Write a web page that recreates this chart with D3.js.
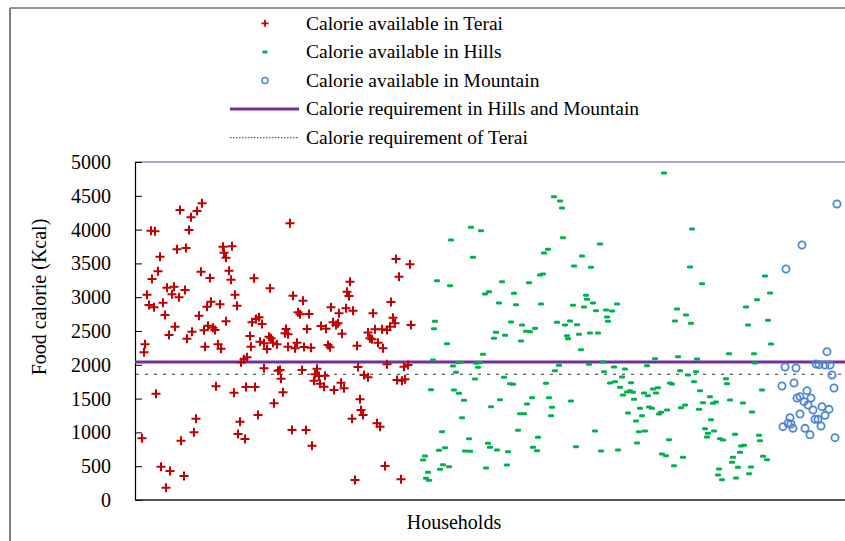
<!DOCTYPE html>
<html>
<head>
<meta charset="utf-8">
<script src="https://cdn.jsdelivr.net/npm/d3@7"></script>
<style>
  body { margin: 0; background: #fff; }
  svg { display: block; font-family: "Liberation Serif", "Times New Roman", serif; }
</style>
</head>
<body>
<svg id="chart" width="845" height="541"></svg>
<script>
// household index (x) and calorie available (kcal)
const teraiPoints = [
  [9,2184],[10,2303],[16,3984],[20,3974],[25,3600],[17,3269],[23,3383],[12,3037],[14,2885],[19,2850],
  [28,2919],[30,2737],[32,3141],[39,3156],[37,3042],[44,2998],[50,3107],[34,2441],[40,2564],[52,2387],
  [57,2490],[42,3708],[51,3728],[45,4290],[54,3994],[56,4181],[62,4275],[67,4389],[66,3378],[75,3284],
  [64,2727],[72,2860],[76,2934],[85,2894],[69,2510],[73,2579],[78,2549],[80,2515],[70,2268],[83,2303],
  [86,2239],[88,3748],[89,3659],[91,3585],[97,3753],[94,3393],[96,3259],[100,3037],[102,2875],[91,2643],
  [106,2036],[109,2081],[112,2110],[115,2426],[116,2268],[117,2628],[119,3279],[121,2678],[21,1573],[81,1681],
  [99,1588],[111,1672],[120,1672],[123,1257],[61,1203],[59,1001],[105,1159],[103,976],[110,902],[7,912],
  [46,878],[26,493],[35,429],[49,355],[31,182],
  [155,4093],[135,3131],[158,3023],[168,2949],[215,3230],[212,3082],[214,3018],[163,2776],[165,2747],[174,2751],
  [124,2702],[127,2604],[196,2850],[204,2761],[211,2835],[218,2801],[238,2761],[151,2530],[150,2466],[153,2451],
  [172,2530],[186,2574],[191,2535],[198,2628],[203,2613],[201,2589],[207,2461],[233,2476],[235,2392],[237,2377],
  [125,2342],[129,2318],[132,2234],[134,2416],[136,2392],[138,2327],[142,2303],[153,2268],[160,2244],[162,2327],
  [169,2263],[176,2254],[193,2293],[195,2258],[222,2283],[129,1948],[143,1913],[145,1923],[146,1795],[167,1923],
  [182,1943],[180,1859],[184,1834],[190,1839],[179,1765],[185,1721],[189,1677],[206,1736],[199,1627],[209,1652],
  [223,1967],[229,1849],[233,1815],[148,1593],[139,1430],[225,1489],[226,1331],[228,1257],[217,1203],[157,1035],
  [171,1035],[177,804],[220,296],
  [261,3565],[275,3486],[264,3304],[256,2929],[258,2697],[260,2613],[276,2589],[240,2525],[247,2525],[252,2515],
  [255,2564],[243,2327],[248,2244],[252,2007],[269,1972],[273,1997],[262,1775],[267,1765],[270,1785],[242,1134],
  [245,1085],[250,503],[266,306]
];

const hillsPoints = [
  [336,4034],[346,3984],[316,3846],[338,3590],[302,3245],[315,3171],[350,3047],[354,3082],[300,2643],[299,2535],
  [312,2313],[348,2155],[298,2071],[318,1982],[323,2032],[326,2037],[321,1889],[341,2022],[345,2032],[343,1963],
  [340,1790],[296,1632],[319,1627],[324,1578],[329,1474],[356,1381],[327,1218],[307,1011],[334,907],[353,838],
  [355,779],[330,725],[335,720],[310,774],[304,735],[290,651],[288,592],[308,523],[314,493],[305,454],
  [293,409],[291,321],[294,291],[351,473],
  [419,4487],[425,4423],[427,4320],[428,3881],[465,3787],[413,3708],[409,3654],[447,3609],[439,3462],[456,3442],
  [405,3329],[408,3343],[367,3230],[394,3215],[379,3057],[364,2914],[381,2890],[406,2899],[451,3028],[452,2968],
  [458,2914],[438,2880],[449,2855],[461,2801],[471,2811],[472,2707],[473,2643],[376,2633],[387,2589],[361,2480],
  [359,2392],[370,2436],[391,2495],[395,2490],[400,2539],[386,2352],[422,2628],[430,2589],[435,2648],[442,2594],
  [432,2431],[433,2387],[444,2451],[455,2470],[463,2470],[446,2224],[424,1992],[420,1913],[454,2007],[468,2041],
  [469,1898],[369,1815],[375,1721],[378,1711],[411,1726],[365,1484],[397,1514],[414,1514],[392,1420],[417,1371],
  [436,1465],[385,1277],[389,1277],[416,1248],[383,1031],[403,927],[460,1021],[398,779],[402,730],[441,789],
  [362,740],[373,715],[466,725],[372,518],
  [529,4837],[557,4009],[555,3447],[567,3200],[477,2796],[482,2899],[542,2825],[551,2737],[540,2648],[556,2613],
  [520,2091],[543,2120],[562,2086],[479,1967],[490,1938],[512,1987],[545,1913],[553,1849],[561,1898],[475,1731],
  [480,1751],[487,1820],[496,1736],[485,1667],[488,1553],[492,1598],[495,1617],[498,1593],[509,1583],[513,1543],
  [518,1642],[523,1662],[521,1583],[535,1731],[537,1716],[559,1751],[565,1617],[575,1529],[568,1440],[578,1430],
  [581,1450],[499,1489],[493,1287],[505,1356],[507,1248],[514,1376],[517,1356],[524,1272],[526,1297],[532,1331],
  [546,1366],[550,1405],[564,1341],[501,1169],[576,1188],[504,1011],[510,1021],[570,1055],[573,986],[572,932],
  [579,1021],[585,907],[588,888],[502,843],[534,893],[483,740],[527,680],[531,656],[548,631],[539,508],
  [584,459],[583,370],[587,301],
  [630,3314],[635,3062],[622,2964],[611,2855],[613,2589],[633,2658],[636,2308],[594,2165],[619,2165],[620,2027],
  [591,1795],[592,1721],[627,1627],[595,1479],[608,1435],[617,1302],[600,971],[624,957],[625,878],[606,799],
  [609,809],[605,705],[598,631],[597,557],[628,646],[632,597],[603,483],[616,488],[614,390],[601,325]
];

const mountainPoints = [
  [702,4379],[667,3772],[651,3417],[692,2194],[650,1967],[661,1953],[681,2012],[684,2002],[690,1997],[695,1997],
  [697,1849],[647,1686],[659,1731],[699,1657],[672,1617],[662,1509],[665,1529],[676,1509],[669,1455],[673,1405],
  [678,1331],[687,1381],[694,1341],[665,1272],[690,1252],[680,1193],[683,1193],[655,1218],[653,1134],[656,1124],
  [648,1085],[658,1060],[670,1060],[686,1095],[675,966],[700,922]
];

const hillsMountainRequirement = 2040;
const teraiRequirement = 1860;
const yTicks = [0, 500, 1000, 1500, 2000, 2500, 3000, 3500, 4000, 4500, 5000];

const legendItems = [
  { label: "Calorie available in Terai", kind: "plus" },
  { label: "Calorie available in Hills", kind: "dash" },
  { label: "Calorie available in Mountain", kind: "circle" },
  { label: "Calorie requirement in Hills and Mountain", kind: "solid" },
  { label: "Calorie requirement of Terai", kind: "dotted" }
];

const red = "#c00000", green = "#00b050", blue = "#4f86d4", purple = "#7030a0";

const svg = d3.select("#chart");
const x = d3.scaleLinear().domain([0, 710]).range([135, 845]);
const y = d3.scaleLinear().domain([0, 5000]).range([500, 162]);

// outer frame (left and top edges visible)
svg.append("line").attr("x1", 10).attr("x2", 10).attr("y1", 8).attr("y2", 541)
  .attr("stroke", "#7f7f7f").attr("stroke-width", 2);
svg.append("line").attr("x1", 10).attr("x2", 845).attr("y1", 8).attr("y2", 8)
  .attr("stroke", "#6f6f6f").attr("stroke-width", 1.5);

// top line of plot area
svg.append("line").attr("x1", 135).attr("x2", 845).attr("y1", y(5000)).attr("y2", y(5000))
  .attr("stroke", "#b49fd6").attr("stroke-width", 2);

// y axis
const yAxis = svg.append("g")
  .attr("transform", "translate(135,0)")
  .call(d3.axisLeft(y).tickValues(yTicks).tickSize(-7).tickSizeOuter(0).tickPadding(24).tickFormat(d3.format("d")));
yAxis.select(".domain").attr("stroke", "#000").attr("stroke-width", 1.2);
yAxis.selectAll(".tick line").attr("stroke", "#000");
yAxis.selectAll("text").attr("font-size", 20).attr("fill", "#000")
  .attr("font-family", "'Liberation Serif', 'Times New Roman', serif");

// x axis line
svg.append("line").attr("x1", 135).attr("x2", 845).attr("y1", y(0)).attr("y2", y(0))
  .attr("stroke", "#1e1630").attr("stroke-width", 1.5);

// requirement lines
svg.append("line").attr("x1", 135).attr("x2", 845)
  .attr("y1", y(hillsMountainRequirement)).attr("y2", y(hillsMountainRequirement))
  .attr("stroke", purple).attr("stroke-width", 3);
svg.append("line").attr("x1", 136).attr("x2", 845)
  .attr("y1", y(teraiRequirement)).attr("y2", y(teraiRequirement))
  .attr("stroke", "#333").attr("stroke-width", 1).attr("stroke-dasharray", "3,6");

// markers
const plus = s => `M${-s},0H${s}M0,${-s}V${s}`;

svg.append("g").selectAll("path").data(teraiPoints).join("path")
  .attr("transform", d => `translate(${x(d[0])},${y(d[1])})`)
  .attr("d", plus(4.5))
  .attr("stroke", red).attr("stroke-width", 2).attr("fill", "none");

svg.append("g").selectAll("rect").data(hillsPoints).join("rect")
  .attr("x", d => x(d[0]) - 3).attr("y", d => y(d[1]) - 1.5)
  .attr("width", 6).attr("height", 3).attr("rx", 1.2)
  .attr("fill", green);

svg.append("g").selectAll("circle").data(mountainPoints).join("circle")
  .attr("cx", d => x(d[0])).attr("cy", d => y(d[1])).attr("r", 3.6)
  .attr("fill", "none").attr("stroke", blue).attr("stroke-width", 1.8);

// legend
const legend = svg.append("g");
legendItems.forEach((item, i) => {
  const cy = 23.3 + i * 28.6;
  const g = legend.append("g");
  if (item.kind === "plus") {
    g.append("path").attr("transform", `translate(265,${cy})`).attr("d", plus(3.5))
      .attr("stroke", red).attr("stroke-width", 1.8);
  } else if (item.kind === "dash") {
    g.append("rect").attr("x", 262.5).attr("y", cy - 1.5).attr("width", 5).attr("height", 3)
      .attr("rx", 0.8).attr("fill", green);
  } else if (item.kind === "circle") {
    g.append("circle").attr("cx", 265).attr("cy", cy).attr("r", 3)
      .attr("fill", "none").attr("stroke", blue).attr("stroke-width", 1.6);
  } else if (item.kind === "solid") {
    g.append("line").attr("x1", 230).attr("x2", 299).attr("y1", cy).attr("y2", cy)
      .attr("stroke", purple).attr("stroke-width", 3);
  } else {
    g.append("line").attr("x1", 230).attr("x2", 299).attr("y1", cy).attr("y2", cy)
      .attr("stroke", "#333").attr("stroke-width", 1).attr("stroke-dasharray", "1.5,1.5");
  }
  g.append("text").attr("x", 306).attr("y", cy + 6.3)
    .attr("font-size", 19.5).attr("fill", "#000").text(item.label);
});

// axis titles
svg.append("text").attr("x", 454).attr("y", 529).attr("text-anchor", "middle")
  .attr("font-size", 20).text("Households");
svg.append("text").attr("transform", "translate(46,297) rotate(-90)").attr("text-anchor", "middle")
  .attr("font-size", 20).text("Food calorie (Kcal)");
</script>
</body>
</html>
